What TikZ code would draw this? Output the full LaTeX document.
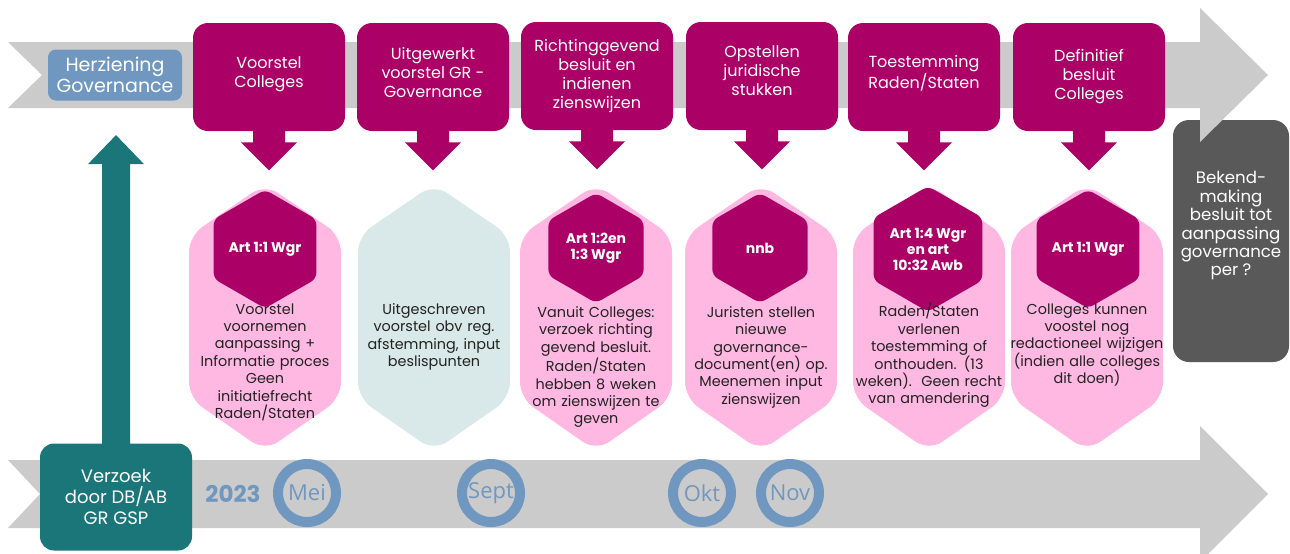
\documentclass[tikz,border=0pt]{standalone}
\usepackage{fontspec}
\setmainfont{Poppins}
\newfontfamily\monthfont{Open Sans}
\usetikzlibrary{shapes.geometric}
\definecolor{bandgray}{HTML}{CBCBCB}
\definecolor{steel}{HTML}{7097C0}
\definecolor{mag}{HTML}{AB0066}
\definecolor{lightpink}{HTML}{FFB8E2}
\definecolor{pale}{HTML}{D9E8E8}
\definecolor{tealbox}{HTML}{1B767A}
\definecolor{darkbox}{HTML}{595959}
\definecolor{ink}{HTML}{222222}
\begin{document}
\begin{tikzpicture}[x=0.5pt,y=-0.5pt,
    mbox/.style={fill=mag,rounded corners=7.5pt,minimum width=76pt,minimum height=54pt,
      inner sep=0pt,text=white,align=center,font=\fontsize{8}{9.5}\selectfont},
    outerhex/.style={fill=lightpink,rounded corners=8pt},
    arthex/.style={regular polygon,regular polygon sides=6,regular polygon rotate=30,
      minimum size=55pt,inner sep=0pt,fill=mag,rounded corners=3pt,text=white,
      align=center,font=\fontsize{7}{8}\selectfont\bfseries},
    hextext/.style={anchor=north,text width=80pt,inner sep=0pt,align=center,text=ink,
      font=\fontsize{7.2}{8.7}\selectfont},
    ring/.style={circle,draw=steel,line width=5pt,minimum size=29pt,inner sep=0pt,
      text=steel,font=\monthfont\fontsize{11}{12}\selectfont}]
  \useasboundingbox (0,0) rectangle (1290,553);
  % publication box, partly under the upper band
  \node[fill=darkbox,rounded corners=8pt,minimum width=58pt,minimum height=121pt] (pub) at (1231,241) {};
  \node[text=white,align=center,font=\fontsize{8.3}{9.2}\selectfont] (pubtext) at (1231,226)
    {Bekend-\\making\\besluit tot\\aanpassing\\governance\\per ?};
  % time bands
  \fill[bandgray] (8,42) -- (1200,42) -- (1200,8) -- (1268,75) -- (1200,142) -- (1200,108) -- (8,108) -- (42,75) -- cycle;
  \fill[bandgray] (8,460) -- (1200,460) -- (1200,426) -- (1268,494) -- (1200,562) -- (1200,528) -- (8,528) -- (40,494) -- cycle;
  \node[fill=steel,rounded corners=4pt,minimum width=67pt,minimum height=25.5pt,text=white,align=center,
    font=\fontsize{9.5}{10.5}\selectfont] (herz) at (115,75) {Herziening\\Governance};
  % steps
  \node[mbox] (b1) at (269,77) {Voorstel\\Colleges\\[-4.5pt]};
  \node[mbox] (b2) at (433,77) {Uitgewerkt\\voorstel GR -\\Governance\\[-4.5pt]};
  \node[mbox] (b3) at (597,76) {Richtinggevend\\besluit en\\indienen\\zienswijzen};
  \node[mbox] (b4) at (762,76) {Opstellen\\juridische\\stukken\\[-4.5pt]};
  \node[mbox] (b5) at (924,77) {Toestemming\\Raden/Staten\\[-4.5pt]};
  \node[mbox] (b6) at (1089,77) {Definitief\\besluit\\Colleges};
  \fill[mag] ([xshift=-8pt,yshift=1pt]b1.south) -- ++(0,13) -- ++(-12,0) -- ++(28,28) -- ++(28,-28) -- ++(-12,0) -- ++(0,-13) -- cycle;
  \fill[mag] ([xshift=-8pt,yshift=1pt]b2.south) -- ++(0,13) -- ++(-12,0) -- ++(28,28) -- ++(28,-28) -- ++(-12,0) -- ++(0,-13) -- cycle;
  \fill[mag] ([xshift=-8pt,yshift=1pt]b3.south) -- ++(0,13) -- ++(-12,0) -- ++(28,28) -- ++(28,-28) -- ++(-12,0) -- ++(0,-13) -- cycle;
  \fill[mag] ([xshift=-8pt,yshift=1pt]b4.south) -- ++(0,13) -- ++(-12,0) -- ++(28,28) -- ++(28,-28) -- ++(-12,0) -- ++(0,-13) -- cycle;
  \fill[mag] ([xshift=-8pt,yshift=1pt]b5.south) -- ++(0,13) -- ++(-12,0) -- ++(28,28) -- ++(28,-28) -- ++(-12,0) -- ++(0,-13) -- cycle;
  \fill[mag] ([xshift=-8pt,yshift=1pt]b6.south) -- ++(0,13) -- ++(-12,0) -- ++(28,28) -- ++(28,-28) -- ++(-12,0) -- ++(0,-13) -- cycle;
  % details
  \coordinate (h1) at (265,184);
  \coordinate (h2) at (434,184);
  \coordinate (h3) at (596,184);
  \coordinate (h4) at (761,184);
  \coordinate (h5) at (929,184);
  \coordinate (h6) at (1087,184);
  \fill[outerhex] (h1) -- ++(76,52) -- ++(0,162) -- ++(-76,53) -- ++(-76,-53) -- ++(0,-162) -- cycle;
  \fill[outerhex,fill=pale] (h2) -- ++(76,52) -- ++(0,162) -- ++(-76,53) -- ++(-76,-53) -- ++(0,-162) -- cycle;
  \fill[outerhex] (h3) -- ++(76,52) -- ++(0,162) -- ++(-76,53) -- ++(-76,-53) -- ++(0,-162) -- cycle;
  \fill[outerhex] (h4) -- ++(76,52) -- ++(0,162) -- ++(-76,53) -- ++(-76,-53) -- ++(0,-162) -- cycle;
  \fill[outerhex] (h5) -- ++(76,52) -- ++(0,162) -- ++(-76,53) -- ++(-76,-53) -- ++(0,-162) -- cycle;
  \fill[outerhex] (h6) -- ++(76,52) -- ++(0,162) -- ++(-76,53) -- ++(-76,-53) -- ++(0,-162) -- cycle;
  \node[arthex] (a1) at (265,249) {Art 1:1 Wgr};
  \node[arthex] (a3) at (596,248) {Art 1:2en\\1:3 Wgr};
  \node[arthex] (a4) at (760,248) {nnb};
  \node[arthex] (a5) at (928,249) {Art 1:4 Wgr\\en art\\10:32 Awb};
  \node[arthex] (a6) at (1088,249) {Art 1:1 Wgr};
  \node[hextext] (t1) at (265,303) {Voorstel\\voornemen\\aanpassing +\\Informatie proces\\Geen\\initiatiefrecht\\Raden/Staten};
  \node[hextext] (t2) at (434,303) {Uitgeschreven\\voorstel obv reg.\\afstemming, input\\beslispunten};
  \node[hextext] (t3) at (596,306) {Vanuit Colleges:\\verzoek richting\\gevend besluit.\\Raden/Staten\\hebben 8 weken\\om zienswijzen te\\geven};
  \node[hextext] (t4) at (761,306) {Juristen stellen\\nieuwe\\governance-\\document(en) op.\\Meenemen input\\zienswijzen};
  \node[hextext] (t5) at (929,303) {Raden/Staten\\verlenen\\toestemming of\\onthouden. (13\\weken).~~Geen recht\\van amendering};
  \node[hextext] (t6) at (1087,303) {Colleges kunnen\\voostel nog\\redactioneel wijzigen\\(indien alle colleges\\dit doen)};
  % start
  \node[fill=tealbox,rounded corners=7pt,minimum width=76pt,minimum height=53.5pt,text=white,align=center,
    font=\fontsize{9}{10.5}\selectfont] (verz) at (116,497) {Verzoek\\door DB/AB\\GR GSP};
  \fill[tealbox] ([xshift=-7pt,yshift=-1pt]verz.north) -- ++(0,-281) -- ++(-14,0) -- ++(28,-29) -- ++(28,29) -- ++(-14,0) -- ++(0,281) -- cycle;
  \node[text=steel,font=\fontsize{11.5}{12}\selectfont\bfseries] (yr) at (233,494) {2023};
  \node[ring] (mei) at (307,493) {Mei};
  \node[ring] (sept) at (491,493) {Sept};
  \node[ring] (okt) at (702,493) {Okt};
  \node[ring] (nov) at (790,493) {Nov};
\end{tikzpicture}
\end{document}
